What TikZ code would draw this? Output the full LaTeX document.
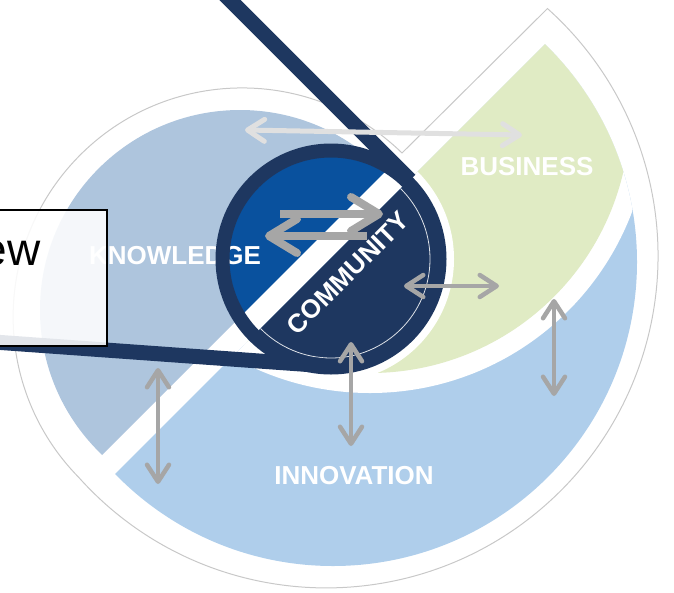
\documentclass[tikz,border=0pt]{standalone}
\usepackage{fontspec}
\setmainfont{Liberation Sans}
\usetikzlibrary{arrows.meta}
\definecolor{knowc}{RGB}{174,197,221}
\definecolor{innoc}{RGB}{175,206,235}
\definecolor{busc}{RGB}{224,235,196}
\definecolor{cblue}{RGB}{9,81,158}
\definecolor{navyc}{RGB}{30,55,96}
\definecolor{agray}{RGB}{166,166,166}
\definecolor{lgray}{RGB}{224,224,224}
\definecolor{ogray}{RGB}{200,200,200}
\tikzset{
  lbl/.style={text=white, font=\bfseries\fontsize{26}{30}\selectfont, inner sep=0pt},
  bigarrow/.style={draw=agray, line width=8pt, -{Straight Barb[length=28pt,width=34pt,round]}},
  smallarrow/.style={draw=agray, line width=4.5pt, {Straight Barb[length=17pt,width=22pt,round]}-{Straight Barb[length=17pt,width=22pt,round]}},
  lightarrow/.style={draw=lgray, line width=5pt, {Straight Barb[length=17pt,width=22pt,round]}-{Straight Barb[length=17pt,width=22pt,round]}},
  callout/.style={draw=navyc, line width=15pt},
  outline/.style={draw=ogray, line width=1pt}
}
\begin{document}
\begin{tikzpicture}[x=1pt,y=-1pt]
\useasboundingbox (0,0) rectangle (674,592);
\begin{scope}
\clip (0,0) rectangle (674,592);
% outer outline
\draw[outline] (402,153) arc[start angle=-45.71, end angle=-224.47, radius=229]
  arc[start angle=138.17, end angle=-48.17, radius=332] -- cycle;
% knowledge
\begin{scope}
\clip (-200,-200) -- (757,-200) -- (-200,757) -- cycle;
\fill[knowc] (240,310) circle[radius=200];
\end{scope}
% innovation and business
\begin{scope}
\clip (789,-200) -- (1200,1200) -- (-200,789) -- cycle;
\clip (333,262) circle[radius=304];
\fill[innoc] (333,262) circle[radius=305];
\fill[white] (370,113) circle[radius=280];
\fill[busc] (370,113) circle[radius=260];
\fill[white] (331,259) circle[radius=123];
\end{scope}
% community inner
\begin{scope}
\clip (331,259) circle[radius=102];
\fill[cblue] (200,100) rectangle (460,400);
\fill[white] (757,-200) -- (789,-200) -- (-200,789) -- (-200,757) -- cycle;
\fill[navyc] (789,-200) -- (1200,1200) -- (-200,789) -- cycle;
\end{scope}
\begin{scope}
\clip (789,-200) -- (1200,1200) -- (-200,789) -- cycle;
\draw[white, line width=0.8pt, opacity=0.85] (331,259) circle[radius=99];
\end{scope}
\node[lbl] (know) at (175,256) {KNOWLEDGE};
% ring and callout
\coordinate (ctop) at (190,-40);
\coordinate (ttop) at (410,180);
\coordinate (cbot) at (-20,341);
\coordinate (tbot) at (323.2,365.6);
\draw[navyc, line width=14pt] (331,259) circle[radius=108.5];
\draw[callout] (ctop) -- (ttop);
\draw[callout] (cbot) -- (tbot);
% labels
\node[lbl] (bus) at (527,167) {BUSINESS};
\node[lbl] (inno) at (354,476) {INNOVATION};
\node[lbl, rotate=45] (comm) at (348,273) {COMMUNITY};
% arrows
\coordinate (ta1) at (280,214); \coordinate (ta2) at (383,214);
\coordinate (tb1) at (367,236); \coordinate (tb2) at (265,236);
\draw[bigarrow] (ta1) -- (ta2);
\draw[bigarrow] (tb1) -- (tb2);
\coordinate (lg1) at (245,130); \coordinate (lg2) at (522,135);
\draw[lightarrow] (lg1) -- (lg2);
\coordinate (rh1) at (404,286); \coordinate (rh2) at (499,286);
\draw[smallarrow] (rh1) -- (rh2);
\coordinate (bv1) at (351,342); \coordinate (bv2) at (351,446);
\draw[smallarrow] (bv1) -- (bv2);
\coordinate (rv1) at (554,299); \coordinate (rv2) at (554,396);
\draw[smallarrow] (rv1) -- (rv2);
\coordinate (lv1) at (158,368); \coordinate (lv2) at (158,484);
\draw[smallarrow] (lv1) -- (lv2);
% box
\path[draw=black, line width=1.5pt, fill=white, fill opacity=0.88] (-50,210) rectangle (107,346);
\node[anchor=base east, inner sep=0pt, font=\fontsize{46}{50}\selectfont] (ewtxt) at (41,265) {ew};
\end{scope}
\end{tikzpicture}
\end{document}
